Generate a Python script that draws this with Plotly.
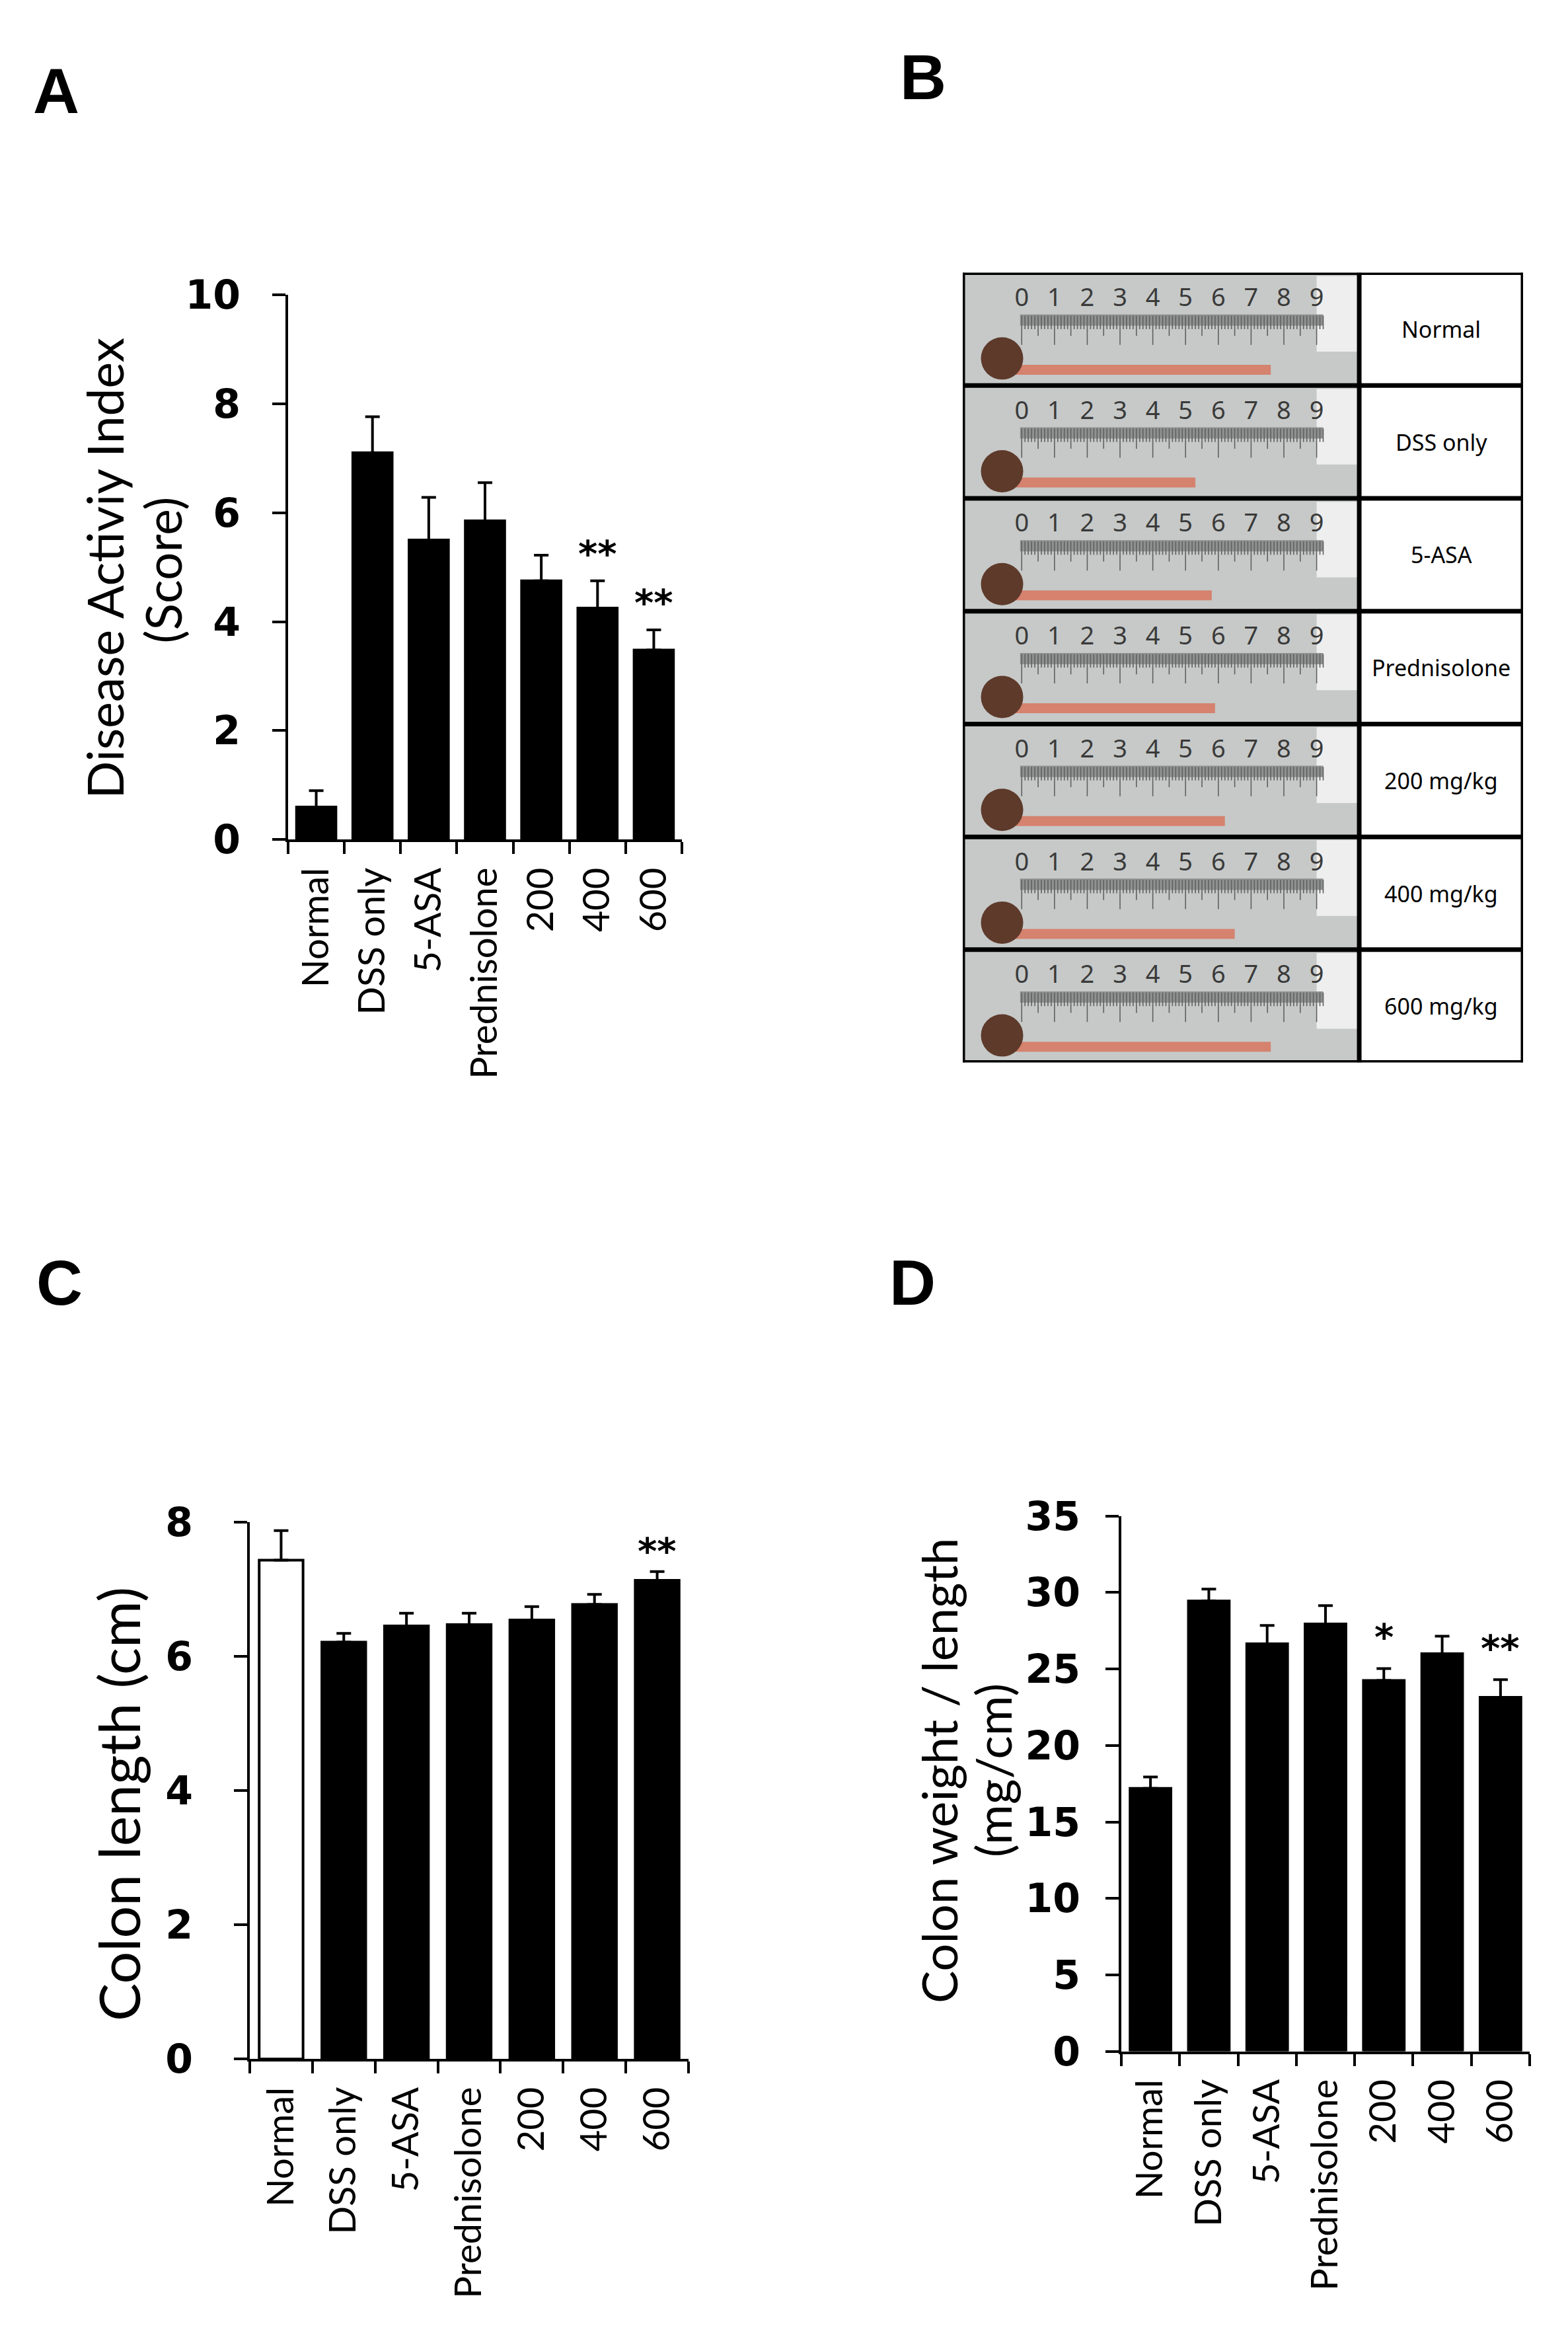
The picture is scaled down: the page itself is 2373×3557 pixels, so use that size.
import plotly.graph_objects as go

# -------- canvas --------
W, H = 2373, 3557

# -------- data --------
groups = ["Normal", "DSS only", "5-ASA", "Prednisolone", "200", "400", "600"]

# A: disease activity index (score)
dai_mean = [0.6, 7.1, 5.5, 5.85, 4.75, 4.25, 3.48]
dai_err = [0.3, 0.66, 0.78, 0.7, 0.47, 0.5, 0.37]
dai_sig = ["", "", "", "", "", "**", "**"]

# C: colon length (cm)
len_mean = [7.43, 6.21, 6.45, 6.47, 6.54, 6.77, 7.13]
len_err = [0.44, 0.13, 0.19, 0.17, 0.2, 0.15, 0.13]
len_sig = ["", "", "", "", "", "", "**"]

# D: colon weight / length (mg/cm)
wl_mean = [17.2, 29.45, 26.65, 27.95, 24.25, 26.0, 23.15]
wl_err = [0.74, 0.78, 1.2, 1.2, 0.78, 1.15, 1.15]
wl_sig = ["", "", "", "", "*", "", "**"]

# B: colon photographs (tip position against the ruler, cm)
photo_labels = ["Normal", "DSS only", "5-ASA", "Prednisolone",
                "200 mg/kg", "400 mg/kg", "600 mg/kg"]
colon_tip_cm = [7.6, 5.3, 5.8, 5.9, 6.2, 6.5, 7.6]
ruler_marks = list(range(10))

# -------- fonts --------
LABEL_FONT = "Lato, Carlito, 'Liberation Sans Narrow', sans-serif"
TICK_FONT = "'DejaVu Sans', Verdana, sans-serif"
LETTER_FONT = "'Liberation Sans', Arial, sans-serif"

fig = go.Figure()
annotations = []
shapes = []


def px_x(px):
    return px / W


def px_y(py):
    return 1 - py / H


def bar_panel(n, means, errs, sig, fills, left, right, top, bottom,
              ymax, dtick, standoff, star_px):
    xa = "x" if n == 1 else f"x{n}"
    ya = "y" if n == 1 else f"y{n}"
    fig.add_trace(go.Bar(
        x=groups, y=means, xaxis=xa, yaxis=ya,
        marker=dict(color=fills, line=dict(color="black", width=4)),
        error_y=dict(type="data", array=errs, arrayminus=[0] * len(errs),
                     symmetric=False, color="black", thickness=4, width=11),
        showlegend=False, hoverinfo="skip",
    ))
    fig.update_layout(**{
        ("xaxis" if n == 1 else f"xaxis{n}"): dict(
            domain=[px_x(left), px_x(right)], anchor=ya,
            type="category", range=[-0.5, len(groups) - 0.5],
            showline=True, linecolor="black", linewidth=4,
            ticks="outside", tickson="boundaries", ticklen=18, tickwidth=4,
            tickcolor="black", tickangle=-90, ticklabelstandoff=16,
            tickfont=dict(family=LABEL_FONT, size=56, color="black"),
            showgrid=False, zeroline=False, fixedrange=True,
        ),
        ("yaxis" if n == 1 else f"yaxis{n}"): dict(
            domain=[px_y(bottom), px_y(top)], anchor=xa,
            range=[0, ymax], dtick=dtick,
            showline=True, linecolor="black", linewidth=4,
            ticks="outside", ticklen=20, tickwidth=4, tickcolor="black",
            ticklabelstandoff=standoff,
            tickfont=dict(family=TICK_FONT, size=60, color="black", weight="bold"),
            showgrid=False, zeroline=False, fixedrange=True,
        ),
    })
    # significance marks (category index used as x position)
    for i, (m, e, s) in enumerate(zip(means, errs, sig)):
        if s:
            annotations.append(dict(
                x=i, y=m + e, xref=xa, yref=ya, text=s, showarrow=False,
                yanchor="middle", yshift=star_px - 12,
                font=dict(family=TICK_FONT, size=56, color="black", weight="bold"),
            ))


# -------- panel A --------
bar_panel(1, dai_mean, dai_err, dai_sig, ["black"] * 7,
          428, 1024, 411, 1252, 10, 2, 36, 53)
# -------- panel C --------
bar_panel(2, len_mean, len_err, len_sig, ["white"] + ["black"] * 6,
          370, 1034, 2305, 3134, 8, 2, 50, 43)
# -------- panel D --------
bar_panel(3, wl_mean, wl_err, wl_sig, ["black"] * 7,
          1689, 2307, 2296, 3122, 35, 5, 26, 60)

# -------- axis titles --------
def vtitle(text, cx, cy, size):
    annotations.append(dict(
        x=px_x(cx), y=px_y(cy), xref="paper", yref="paper", text=text,
        textangle=-90, showarrow=False, xanchor="center", yanchor="middle",
        font=dict(family=LABEL_FONT, size=size, color="black"),
    ))


vtitle("Disease Activiy Index", 150, 833, 75)
vtitle("(Score)", 238, 836, 75)
vtitle("Colon length (cm)", 170, 2741, 86)
vtitle("Colon weight / length", 1412, 2689, 74)
vtitle("(mg/cm)", 1494, 2689, 74)

# -------- panel letters --------
for letter, lx, ly in [("A", 40, 96), ("B", 1352, 75), ("C", 45, 1936), ("D", 1336, 1936)]:
    annotations.append(dict(
        x=px_x(lx), y=px_y(ly), xref="paper", yref="paper", text=letter,
        showarrow=False, xanchor="left", yanchor="middle",
        font=dict(family=LETTER_FONT, size=97, color="black", weight="bold"),
    ))

# -------- panel B (photo table, drawn schematically) --------
B_LEFT, B_RIGHT, B_TOP, B_BOTTOM = 1449, 2297, 377, 1596
x_min, x_div, x_max = -1.8, 10.3, 15.3
n_rows = len(photo_labels)

fig.update_layout(
    xaxis4=dict(domain=[px_x(B_LEFT), px_x(B_RIGHT)], anchor="y4",
                range=[x_min, x_max], visible=False, fixedrange=True),
    yaxis4=dict(domain=[px_y(B_BOTTOM), px_y(B_TOP)], anchor="x4",
                range=[n_rows, 0], visible=False, fixedrange=True),
)

ruler_x, ruler_y = [], []
colon_x, colon_y = [], []
num_x, num_y, num_t = [], [], []
for i, (lab, tip) in enumerate(zip(photo_labels, colon_tip_cm)):
    # photo background and glare at the ruler end
    shapes.append(dict(type="rect", xref="x4", yref="y4", x0=x_min, x1=x_div,
                       y0=i, y1=i + 1, fillcolor="#c6c9c8", line_width=0, layer="below"))
    shapes.append(dict(type="rect", xref="x4", yref="y4", x0=9.0, x1=x_div,
                       y0=i + 0.03, y1=i + 0.7, fillcolor="#eeeeee", line_width=0, layer="below"))
    # ruler strip
    shapes.append(dict(type="rect", xref="x4", yref="y4", x0=-0.05, x1=9.2,
                       y0=i + 0.37, y1=i + 0.47, fillcolor="#8f9190", line_width=0, layer="below"))
    for mm in range(0, 93):
        ln = 0.64 if mm % 10 == 0 else (0.56 if mm % 5 == 0 else 0.5)
        ruler_x += [mm / 10, mm / 10, None]
        ruler_y += [i + 0.38, i + ln, None]
    for m in ruler_marks:
        num_x.append(m)
        num_y.append(i + 0.24)
        num_t.append(str(m))
    colon_x += [-0.3, tip, None]
    colon_y += [i + 0.86, i + 0.86, None]
    annotations.append(dict(
        x=(x_div + x_max) / 2, y=i + 0.5, xref="x4", yref="y4", text=lab,
        showarrow=False, font=dict(family="'Noto Sans', sans-serif", size=34, color="black"),
    ))

fig.add_trace(go.Scatter(x=ruler_x, y=ruler_y, xaxis="x4", yaxis="y4", mode="lines",
                         line=dict(color="#606060", width=1.6),
                         showlegend=False, hoverinfo="skip"))
fig.add_trace(go.Scatter(x=num_x, y=num_y, text=num_t, xaxis="x4", yaxis="y4", mode="text",
                         textfont=dict(family="'Noto Sans', sans-serif", size=38, color="#3a3a3a"),
                         showlegend=False, hoverinfo="skip"))
fig.add_trace(go.Scatter(x=colon_x, y=colon_y, xaxis="x4", yaxis="y4", mode="lines",
                         line=dict(color="#d5826e", width=15),
                         showlegend=False, hoverinfo="skip"))
fig.add_trace(go.Scatter(x=[-0.6] * n_rows, y=[i + 0.76 for i in range(n_rows)],
                         xaxis="x4", yaxis="y4", mode="markers",
                         marker=dict(color="#5e3a2b", size=64, line_width=0),
                         showlegend=False, hoverinfo="skip"))

# table borders
for i in range(n_rows + 1):
    shapes.append(dict(type="line", xref="x4", yref="y4", x0=x_min, x1=x_max,
                       y0=i, y1=i, line=dict(color="black", width=7)))
for xv in [x_min, x_div, x_max]:
    shapes.append(dict(type="line", xref="x4", yref="y4", x0=xv, x1=xv,
                       y0=0, y1=n_rows, line=dict(color="black", width=7)))

# -------- layout --------
fig.update_layout(
    width=W, height=H,
    margin=dict(l=0, r=0, t=0, b=0),
    paper_bgcolor="white", plot_bgcolor="white",
    font=dict(family=LABEL_FONT, color="black"),
    bargap=0.3,
    showlegend=False,
    annotations=annotations,
    shapes=shapes,
)

fig.write_html("out.html")
